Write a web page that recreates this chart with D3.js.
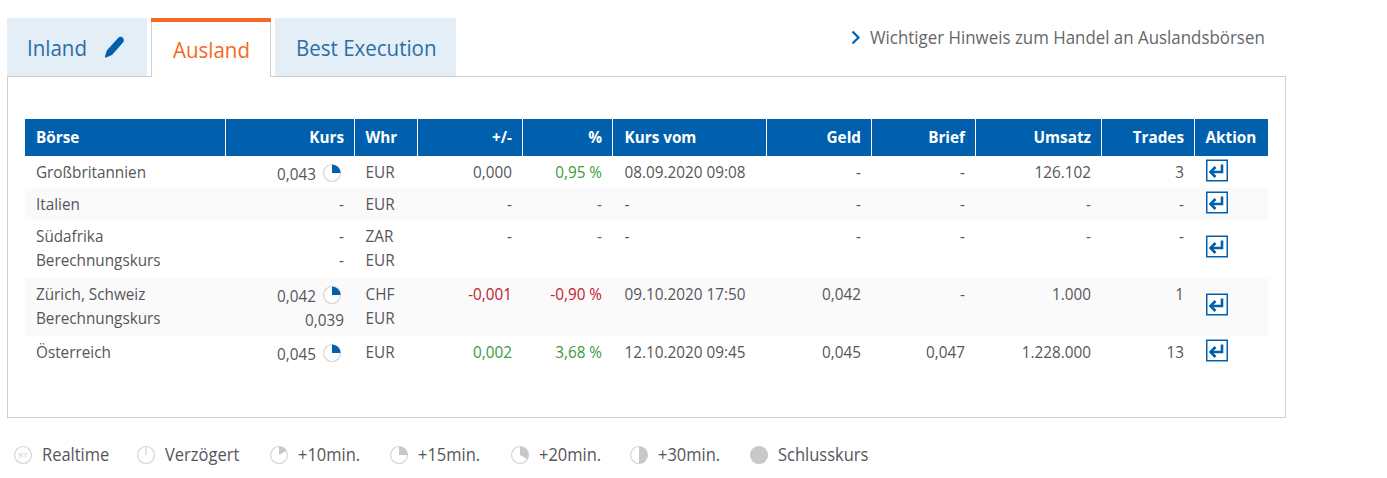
<!DOCTYPE html>
<html><head><meta charset="utf-8">
<script src="https://cdn.jsdelivr.net/npm/d3@7/dist/d3.min.js"></script>
<style>html,body{margin:0;padding:0;background:#fff}svg{display:block}text{font-family:"Open Sans","Noto Sans",sans-serif}</style>
</head><body><div id="c"></div>
<script>
const columns=["Börse","Kurs","Whr","+/-","%","Kurs vom","Geld","Brief","Umsatz","Trades","Aktion"];
const rowNames=["Großbritannien","Italien","Südafrika","Berechnungskurs","Zürich, Schweiz","Berechnungskurs","Österreich"];
const rowGroup=[0,1,2,2,3,3,4];
const lineIndex=[0,0,0,1,0,1,0];
const kurs=["0,043","-","-","-","0,042","0,039","0,045"];
const delayed=[true,false,false,false,true,false,true];
const whr=["EUR","EUR","ZAR","EUR","CHF","EUR","EUR"];
const change=["0,000","-","-","","-0,001","","0,002"];
const pct=["0,95 %","-","-","","-0,90 %","","3,68 %"];
const kursVom=["08.09.2020 09:08","-","-","","09.10.2020 17:50","","12.10.2020 09:45"];
const geld=["-","-","-","","0,042","","0,045"];
const brief=["-","-","-","","-","","0,047"];
const umsatz=["126.102","-","-","","1.000","","1.228.000"];
const trades=["3","-","-","","1","","13"];
const tabs=["Inland","Ausland","Best Execution"];
const hint="Wichtiger Hinweis zum Handel an Auslandsbörsen";
const legendLabels=["Realtime","Verzögert","+10min.","+15min.","+20min.","+30min.","Schlusskurs"];
const legendMinutes=[0,0,10,15,20,30,60];

const W=1387,H=478,F=15.3;
const BLUE="#0060ae",TXT="#55565a",GRID="#cfcfcf",ORANGE="#f26a21",GREEN="#3b9a3b",RED="#c1202c",LIGHT="#c8c8c8";
const svg=d3.select("#c").append("svg").attr("width",W).attr("height",H).attr("viewBox",`0 0 ${W} ${H}`);

// layout
const edges=[25,225.5,354.5,417.5,522.5,612.5,766.5,871.5,975.5,1101.5,1194.5,1268];
const colLeft=d3.scaleOrdinal(columns,edges.slice(0,-1));
const colRight=d3.scaleOrdinal(columns,edges.slice(1));
const groupTop=d3.scaleOrdinal([0,1,2,3,4],[156,188,220,278,336]);
const groupH=d3.scaleOrdinal([0,1,2,3,4],[32,32,58,58,32]);
const lineY=i=>groupTop(rowGroup[i])+16+lineIndex[i]*24;
const legendX=d3.scaleOrdinal(legendLabels,[23,146,279,399,520,639,759]);
const angle=d3.scaleLinear([0,60],[0,2*Math.PI]);
const arc=d3.arc();

// panel
svg.append("rect").attr("x",7.5).attr("y",76.5).attr("width",1278).attr("height",341).attr("fill","#fff").attr("stroke",GRID);

// tabs
const tabX=d3.scaleOrdinal(tabs,[7,151,275]), tabW=d3.scaleOrdinal(tabs,[140,120,181]);
const tabText=d3.scaleOrdinal(tabs,[27,173,296]);
tabs.forEach((t,i)=>{
  const on=i===1;
  if(on){
    svg.append("rect").attr("x",tabX(t)).attr("y",18).attr("width",tabW(t)).attr("height",60).attr("fill","#fff");
    svg.append("path").attr("d",`M${tabX(t)+.5},22V77M${tabX(t)+tabW(t)-.5},22V77`).attr("stroke",GRID).attr("fill","none");
    svg.append("rect").attr("x",tabX(t)).attr("y",18).attr("width",tabW(t)).attr("height",4).attr("fill",ORANGE);
  } else {
    svg.append("rect").attr("x",tabX(t)).attr("y",18).attr("width",tabW(t)).attr("height",58).attr("fill","#e4eef7");
  }
  svg.append("text").attr("class","tab").attr("x",tabText(t)).attr("y",on?58:56).attr("font-size",20.5).attr("fill",on?ORANGE:"#2a6da6").text(t);
});
// pencil
svg.append("path").attr("d","M118.5,37.5 C120,36.5 122,36.5 123,38 C124.3,39.5 124,41 123,42.5 L112,55 L106,57.5 C105,57.8 104.8,57 105,56.4 L106.8,50.5 Z").attr("fill",BLUE);

// hint
svg.append("path").attr("d","M852.5,31.5L858.5,37.5L852.5,43.5").attr("fill","none").attr("stroke",BLUE).attr("stroke-width",2.2);
svg.append("text").attr("class","hint").attr("x",870).attr("y",44).attr("font-size",16.9).attr("fill","#66676b").text(hint);

// header
svg.append("rect").attr("x",edges[0]).attr("y",119).attr("width",edges[11]-edges[0]).attr("height",37).attr("fill",BLUE);
svg.selectAll("line.sep").data(edges.slice(1,-1)).join("line").attr("x1",d=>d).attr("x2",d=>d).attr("y1",119).attr("y2",156).attr("stroke","#fff");
const leftCols=new Set(["Börse","Whr","Kurs vom","Aktion"]);
const leftPad=c=>c==="Kurs vom"?12:11;
svg.selectAll("text.head").data(columns).join("text").attr("class","head")
  .attr("x",c=>leftCols.has(c)?colLeft(c)+leftPad(c):colRight(c)-10.5)
  .attr("y",142.5).attr("text-anchor",c=>leftCols.has(c)?"start":"end")
  .attr("font-size",F).attr("font-weight",700).attr("fill","#fff").text(c=>c);

// stripes
svg.selectAll("rect.stripe").data([1,3]).join("rect").attr("x",edges[0]).attr("width",edges[11]-edges[0])
  .attr("y",d=>groupTop(d)).attr("height",d=>groupH(d)).attr("fill","#fafafa");

// cells
function col(name,values,anchor,color,dy){
  const x=anchor==="start"?colLeft(name)+leftPad(name):colRight(name)-10.5;
  svg.append("g").selectAll("text").data(values).join("text")
    .attr("x",(d,i)=>(name==="Kurs"&&delayed[i])?x-28:x)
    .attr("y",(d,i)=>lineY(i)+5.5+(dy?dy(i):0)).attr("text-anchor",anchor)
    .attr("font-size",F).attr("fill",d=>color?color(d):TXT).text(d=>d);
}
const signColor=d=>d==="-"||d===""?TXT:d.startsWith("-")?RED:(d==="0,000"?TXT:GREEN);
const pctColor=d=>d==="-"||d===""?TXT:d.startsWith("-")?RED:GREEN;
col("Börse",rowNames,"start");
col("Kurs",kurs,"end",null,i=>(i===0||i===4||i===5||i===6)?2:0);
col("Whr",whr,"start");
col("+/-",change,"end",signColor);
col("%",pct,"end",pctColor);
col("Kurs vom",kursVom,"start");
col("Geld",geld,"end");
col("Brief",brief,"end");
col("Umsatz",umsatz,"end");
col("Trades",trades,"end");

// delay pies
function pie(g,cx,cy,min,fill){
  const n=g.append("g").attr("transform",`translate(${cx},${cy})`);
  n.append("circle").attr("r",8.5).attr("fill","#fff").attr("stroke","#d4d4d4").attr("stroke-width",1.2);
  if(min>=60) n.append("circle").attr("r",8.8).attr("fill",fill);
  else if(min>0) n.append("path").attr("d",arc({innerRadius:0,outerRadius:8.6,startAngle:0,endAngle:angle(min)})).attr("fill",fill);
  return n;
}
delayed.forEach((d,i)=>{ if(d) pie(svg,332,lineY(i)+1,15,BLUE); });

// action icons
const actionY=[170,202,246,304,350];
const act=svg.append("g").selectAll("g").data(actionY).join("g").attr("transform",d=>`translate(1206,${d-10.5})`);
act.append("rect").attr("x",.75).attr("y",.75).attr("width",20.5).attr("height",20.5).attr("fill","#fff").attr("stroke",BLUE).attr("stroke-width",1.5);
act.append("path").attr("d","M16,5V12.5H6").attr("fill","none").attr("stroke",BLUE).attr("stroke-width",2.6);
act.append("path").attr("d","M9.5,7.5L4.5,12.5L9.5,17.5").attr("fill","none").attr("stroke",BLUE).attr("stroke-width",2.6);

// legend
legendLabels.forEach((l,i)=>{
  const cx=legendX(l),cy=455;
  const n=pie(svg,cx,cy,legendMinutes[i],LIGHT);
  if(i===0) n.append("text").attr("class","rt").attr("text-anchor","middle").attr("y",3).attr("font-size",8).attr("fill","#cfcfcf").text("RT");
  if(i===1) n.append("line").attr("y1",-8).attr("y2",0).attr("stroke","#d0d0d0").attr("stroke-width",1.2);
  svg.append("text").attr("class","legend").attr("x",cx+19).attr("y",461).attr("font-size",16.5).attr("fill",TXT).text(l);
});

// the source face is narrower than Open Sans: keep widths, raise glyph height
const narrow=.94;
svg.selectAll("text").filter(function(){return this.getAttribute("class")!=="rt"}).each(function(){
  const t=d3.select(this),x=+t.attr("x"),y=+t.attr("y");
  t.attr("x",0).attr("y",0).attr("font-size",+t.attr("font-size")/narrow)
   .attr("transform",`translate(${x},${y}) scale(${narrow},1)`);
});
</script></body></html>
